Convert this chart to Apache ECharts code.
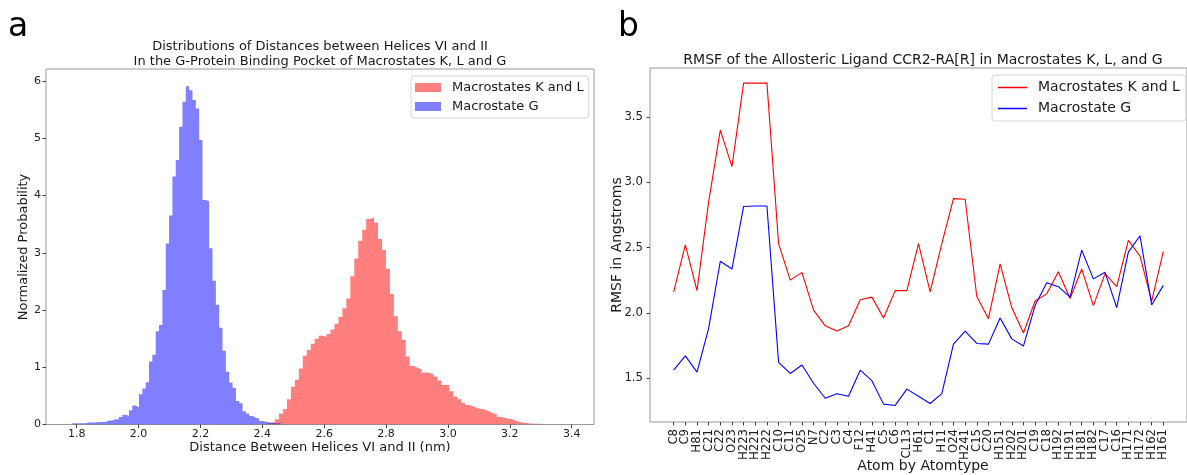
<!DOCTYPE html>
<html>
<head>
<meta charset="utf-8">
<title>Helix distances and ligand RMSF</title>
<script src="https://cdn.jsdelivr.net/npm/echarts@6/dist/echarts.min.js"></script>
<style>
html, body { margin: 0; padding: 0; background: #fff; }
#main { width: 1187px; height: 475px; }
</style>
</head>
<body>
<div id="main"></div>
<script>
// panel a - histogram bins (nm), heights = normalized probability
var blueStart = 1.7854, blueWidth = 0.0108;
var blueHeights = [0.02, 0.02, 0.02, 0.02, 0.035, 0.035, 0.035, 0.045, 0.045, 0.045,
  0.07, 0.07, 0.09, 0.09, 0.13, 0.17, 0.15, 0.25, 0.33, 0.30,
  0.53, 0.63, 0.74, 1.10, 1.22, 1.63, 1.74, 2.35, 3.16, 3.65,
  4.33, 4.62, 5.20, 5.64, 5.91, 5.84, 5.67, 5.52, 4.97, 3.92,
  3.90, 3.08, 2.51, 2.09, 1.69, 1.29, 0.92, 0.73, 0.64, 0.41,
  0.37, 0.23, 0.19, 0.15, 0.12, 0.10, 0.06, 0.05, 0.04, 0.03,
  0.02, 0.02, 0.01, 0.01];
var redStart = 2.4156, redWidth = 0.0128;
var redHeights = [0.02, 0.05, 0.09, 0.19, 0.27, 0.44, 0.66, 0.78, 0.98, 1.20,
  1.30, 1.41, 1.50, 1.55, 1.53, 1.58, 1.66, 1.76, 1.88, 2.03,
  2.20, 2.59, 2.90, 3.21, 3.40, 3.59, 3.62, 3.53, 3.24, 3.05,
  2.72, 2.28, 1.89, 1.63, 1.48, 1.19, 1.02, 0.99, 0.96, 0.91,
  0.90, 0.88, 0.84, 0.77, 0.69, 0.69, 0.58, 0.49, 0.44, 0.38,
  0.34, 0.32, 0.29, 0.27, 0.26, 0.23, 0.20, 0.17, 0.13, 0.12,
  0.10, 0.09, 0.06, 0.04, 0.03, 0.02, 0.015, 0.015, 0.015, 0.005,
  0.005, 0.005];
var distTicks = [1.8, 2.0, 2.2, 2.4, 2.6, 2.8, 3.0, 3.2, 3.4];
var probTicks = [0, 1, 2, 3, 4, 5, 6];

// panel b - RMSF per atom (Angstrom)
var atoms = ['C8', 'C9', 'H81', 'C21', 'C22', 'O23', 'H223', 'H221', 'H222', 'C10',
  'C11', 'O25', 'N7', 'C2', 'C3', 'C4', 'F12', 'H41', 'C5', 'C6',
  'CL13', 'H61', 'C1', 'H11', 'O24', 'H241', 'C15', 'C20', 'H151', 'H202',
  'H201', 'C19', 'C18', 'H192', 'H191', 'H181', 'H182', 'C17', 'C16', 'H171',
  'H172', 'H162', 'H161'];
var rmsfKL = [2.16, 2.52, 2.17, 2.85, 3.40, 3.12, 3.76, 3.76, 3.76, 2.53,
  2.25, 2.31, 2.02, 1.90, 1.86, 1.90, 2.10, 2.12, 1.96, 2.17,
  2.17, 2.53, 2.16, 2.53, 2.875, 2.87, 2.125, 1.955, 2.375, 2.04,
  1.845, 2.09, 2.145, 2.315, 2.11, 2.335, 2.055, 2.30, 2.20, 2.555,
  2.435, 2.09, 2.47];
var rmsfG = [1.56, 1.67, 1.545, 1.88, 2.395, 2.335, 2.815, 2.818, 2.818, 1.62,
  1.535, 1.60, 1.46, 1.345, 1.38, 1.36, 1.56, 1.48, 1.30, 1.29,
  1.415, 1.36, 1.305, 1.38, 1.76, 1.86, 1.765, 1.76, 1.96, 1.80,
  1.745, 2.055, 2.23, 2.20, 2.12, 2.48, 2.26, 2.31, 2.04, 2.465,
  2.59, 2.06, 2.21];
var rmsfTicks = [1.5, 2.0, 2.5, 3.0, 3.5];

var legendText = {
  histKL: 'Macrostates K and L', histG: 'Macrostate G',
  lineKL: 'Macrostates K and L', lineG: 'Macrostate G'
};
var FONT = 'DejaVu Sans';

function stepPoints(start, width, heights) {
  var pts = heights.map(function (h, i) { return [start + i * width, h]; });
  pts.push([start + heights.length * width, 0]);
  return pts;
}

var atomIdx = atoms.map(function (a, i) { return i; });
// atom labels split over two stacked axes so ECharts does not drop neighbours
var evenIdx = atomIdx.filter(function (i) { return i % 2 === 0; });
var oddIdx = atomIdx.filter(function (i) { return i % 2 === 1; });

function axisCommon(ticks, labels, fmt, size, margin) {
  return {
    splitLine: { show: false },
    axisLine: { show: false, onZero: false },
    axisTick: { show: ticks.length > 0, length: 3.5, customValues: ticks, lineStyle: { color: '#444' } },
    axisLabel: {
      customValues: labels, formatter: fmt, fontSize: size, fontFamily: FONT,
      color: '#222', margin: margin, showMinLabel: true, showMaxLabel: true
    }
  };
}

function atomName(v) { return atoms[Math.round(v)]; }

var myChart = echarts.init(document.getElementById('main'));

var option = {
  animation: false,
  backgroundColor: '#fff',
  grid: [
    { left: 46, top: 69, width: 548, height: 355.5, show: true, borderColor: '#999', borderWidth: 1 },
    { left: 650, top: 68, width: 546, height: 354, show: true, borderColor: '#999', borderWidth: 1 }
  ],
  xAxis: [
    Object.assign({ gridIndex: 0, type: 'value', min: 1.7008, max: 3.472 },
      axisCommon(distTicks, distTicks, function (v) { return v.toFixed(1); }, 11, 4)),
    Object.assign({ gridIndex: 1, type: 'value', position: 'bottom', min: -2.03, max: 44.03 },
      axisCommon(atomIdx, evenIdx, atomName, 11.7, 7)),
    Object.assign({ gridIndex: 1, type: 'value', position: 'bottom', offset: 0, min: -2.03, max: 44.03 },
      axisCommon([], oddIdx, atomName, 11.7, 7))
  ],
  yAxis: [
    Object.assign({ gridIndex: 0, type: 'value', min: 0, max: 6.21 },
      axisCommon(probTicks, probTicks, function (v) { return String(v); }, 11, 5)),
    Object.assign({ gridIndex: 1, type: 'value', min: 1.163, max: 3.876 },
      axisCommon(rmsfTicks, rmsfTicks, function (v) { return v.toFixed(1); }, 11.7, 7))
  ],
  legend: [
    {
      left: 411, top: 76, orient: 'vertical', selectedMode: false,
      data: [
        { name: 'histKL', itemStyle: { color: 'rgba(255,0,0,0.5)' } },
        { name: 'histG', itemStyle: { color: 'rgba(0,0,255,0.5)' } }
      ],
      icon: 'rect', itemWidth: 26, itemHeight: 9, itemGap: 4,
      padding: [4, 5, 4, 4],
      backgroundColor: '#fff', borderColor: '#d6d6d6', borderWidth: 1, borderRadius: 3,
      textStyle: { fontSize: 13, fontFamily: FONT, color: '#1a1a1a', lineHeight: 15, padding: [0, 0, 0, 6] },
      formatter: function (n) { return legendText[n]; }
    },
    {
      left: 992, top: 75, orient: 'vertical', selectedMode: false,
      data: [
        { name: 'lineKL', itemStyle: { color: '#ff0000' } },
        { name: 'lineG', itemStyle: { color: '#0000ff' } }
      ],
      icon: 'rect', itemWidth: 29, itemHeight: 1.5, itemGap: 4,
      padding: [4, 6, 4, 6],
      backgroundColor: '#fff', borderColor: '#d6d6d6', borderWidth: 1, borderRadius: 3,
      textStyle: { fontSize: 14, fontFamily: FONT, color: '#1a1a1a', lineHeight: 17, padding: [0, 0, 0, 6] },
      formatter: function (n) { return legendText[n]; }
    }
  ],
  graphic: [
    { type: 'text', x: 8, y: 27, style: { text: 'a', fontSize: 33, fontFamily: FONT, fill: '#000', verticalAlign: 'middle' } },
    { type: 'text', x: 618, y: 27, style: { text: 'b', fontSize: 33, fontFamily: FONT, fill: '#000', verticalAlign: 'middle' } },
    { type: 'text', x: 320, y: 39, style: {
        text: 'Distributions of Distances between Helices VI and II\nIn the G-Protein Binding Pocket of Macrostates K, L and G',
        fontSize: 13, lineHeight: 15, fontFamily: FONT, fill: '#1a1a1a', align: 'center', verticalAlign: 'top' } },
    { type: 'text', x: 923, y: 60, style: {
        text: 'RMSF of the Allosteric Ligand CCR2-RA[R] in Macrostates K, L, and G',
        fontSize: 14, fontFamily: FONT, fill: '#1a1a1a', align: 'center', verticalAlign: 'middle' } },
    { type: 'text', x: 320, y: 448, style: {
        text: 'Distance Between Helices VI and II (nm)',
        fontSize: 13, fontFamily: FONT, fill: '#1a1a1a', align: 'center', verticalAlign: 'middle' } },
    { type: 'text', x: 923, y: 466, style: {
        text: 'Atom by Atomtype',
        fontSize: 14, fontFamily: FONT, fill: '#1a1a1a', align: 'center', verticalAlign: 'middle' } },
    { type: 'text', x: 24, y: 247, rotation: Math.PI / 2, style: {
        text: 'Normalized Probability',
        fontSize: 13, fontFamily: FONT, fill: '#1a1a1a', align: 'center', verticalAlign: 'middle' } },
    { type: 'text', x: 617, y: 245, rotation: Math.PI / 2, style: {
        text: 'RMSF in Angstroms',
        fontSize: 14, fontFamily: FONT, fill: '#1a1a1a', align: 'center', verticalAlign: 'middle' } }
  ],
  series: [
    {
      name: 'histKL', type: 'line', xAxisIndex: 0, yAxisIndex: 0,
      data: stepPoints(redStart, redWidth, redHeights),
      step: 'end', symbol: 'none', silent: true, z: 2,
      itemStyle: { color: 'rgba(255,0,0,0.5)' },
      lineStyle: { width: 0, opacity: 0 },
      areaStyle: { color: 'rgba(255,0,0,0.5)', opacity: 1 }
    },
    {
      name: 'histG', type: 'line', xAxisIndex: 0, yAxisIndex: 0,
      data: stepPoints(blueStart, blueWidth, blueHeights),
      step: 'end', symbol: 'none', silent: true, z: 3,
      itemStyle: { color: 'rgba(0,0,255,0.5)' },
      lineStyle: { width: 0, opacity: 0 },
      areaStyle: { color: 'rgba(0,0,255,0.5)', opacity: 1 }
    },
    {
      name: 'lineKL', type: 'line', xAxisIndex: 1, yAxisIndex: 1,
      data: atomIdx.map(function (i) { return [i, rmsfKL[i]]; }),
      symbol: 'none', silent: true,
      itemStyle: { color: '#ff0000' },
      lineStyle: { color: '#ff0000', width: 1.1 }
    },
    {
      name: 'lineG', type: 'line', xAxisIndex: 1, yAxisIndex: 1,
      data: atomIdx.map(function (i) { return [i, rmsfG[i]]; }),
      symbol: 'none', silent: true,
      itemStyle: { color: '#0000ff' },
      lineStyle: { color: '#0000ff', width: 1.1 }
    }
  ]
};

// x labels of panel b are vertical, as in the figure
option.xAxis[1].axisLabel.rotate = 90;
option.xAxis[2].axisLabel.rotate = 90;

myChart.setOption(option);
</script>
</body>
</html>
